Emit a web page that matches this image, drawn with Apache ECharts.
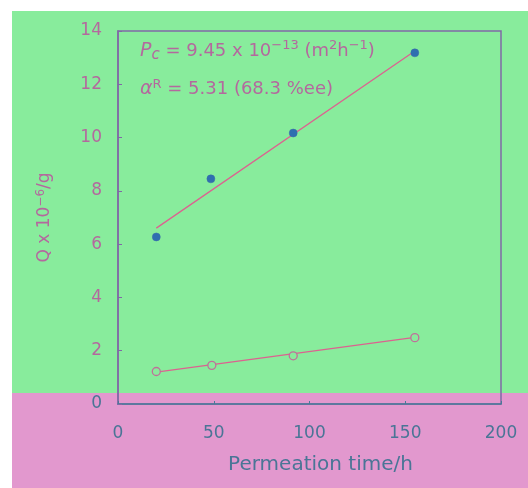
<!DOCTYPE html>
<html>
<head>
<meta charset="utf-8">
<script src="https://cdn.jsdelivr.net/npm/echarts@6/dist/echarts.min.js"></script>
<style>html,body{margin:0;padding:0;background:#fff}#c{width:528px;height:488px}</style>
</head>
<body>
<div id="c"></div>
<script>
// Data
const filledPoints = [[20, 6.27], [48.5, 8.45], [91.5, 10.17], [155, 13.18]];
const hollowPoints = [[20, 1.22], [49, 1.45], [91.5, 1.81], [155, 2.49]];
const filledFit = [[20, 6.6], [155, 13.25]];
const hollowFit = [[20, 1.2], [155, 2.5]];
const xTicks = [0, 50, 100, 150, 200];
const yTicks = [0, 2, 4, 6, 8, 10, 12, 14];

const pinkText = '#b4689e';
const blueText = '#4a7596';
const axisCol = '#8068a6';
const lineCol = '#dc6290';
const font = '"DejaVu Sans", "Liberation Sans", Arial, sans-serif';

const chart = echarts.init(document.getElementById('c'), null, {renderer: 'canvas'});
chart.setOption({
  backgroundColor: '#ffffff',
  animation: false,
  graphic: [
    {type: 'rect', z: -100, shape: {x: 12, y: 11, width: 516, height: 382}, style: {fill: '#88ec9c'}},
    {type: 'rect', z: -100, shape: {x: 12, y: 393, width: 516, height: 95}, style: {fill: '#e298ce'}},
    {type: 'text', left: 140, top: 39, z: 10, style: {
      text: '{i|P}{sub|c} = 9.45 x 10{sup|−13} (m{sup|2}h{sup|−1})',
      fill: pinkText, font: '18px ' + font,
      rich: {
        i: {fontStyle: 'italic', fontSize: 19, fill: pinkText, fontFamily: font},
        sub: {fontStyle: 'italic', fontSize: 15, fill: pinkText, verticalAlign: 'bottom', padding: [9, 0, 0, 0], fontFamily: font},
        sup: {fontSize: 13, fill: pinkText, verticalAlign: 'top', padding: [0, 0, 9, 0], fontFamily: font}
      }
    }},
    {type: 'text', left: 140, top: 78, z: 10, style: {
      text: '{a|α}{sup|R} = 5.31 (68.3 %ee)',
      fill: pinkText, font: '18px ' + font,
      rich: {
        a: {fontStyle: 'italic', fontSize: 19, fill: pinkText, fontFamily: font},
        sup: {fontSize: 13, fill: pinkText, verticalAlign: 'top', padding: [0, 0, 9, 0], fontFamily: font}
      }
    }}
  ],
  grid: {left: 118, top: 31, right: 27, bottom: 84, show: true, borderColor: axisCol, borderWidth: 1.5, backgroundColor: 'transparent'},
  xAxis: {
    type: 'value', min: 0, max: 200, interval: 50,
    name: 'Permeation time/h', nameLocation: 'middle', nameGap: 51,
    nameTextStyle: {color: blueText, fontSize: 20, fontFamily: font, padding: [0, 0, 0, 22]},
    axisLine: {show: true, lineStyle: {color: '#4a7a98', width: 1.5}},
    axisTick: {show: true, inside: true, length: 3, lineStyle: {color: '#4a7a98'}},
    axisLabel: {color: blueText, fontSize: 17, fontFamily: font, margin: 21,
      formatter: v => xTicks.includes(v) ? String(v) : ''},
    splitLine: {show: false}
  },
  yAxis: {
    type: 'value', min: 0, max: 14, interval: 2,
    name: 'Q x 10{s|−6}/g', nameLocation: 'middle', nameGap: 63, nameRotate: 90,
    nameTextStyle: {color: pinkText, fontSize: 17, fontFamily: font,
      rich: {s: {fontSize: 12, color: pinkText, fontFamily: font, verticalAlign: 'top', padding: [0, 0, 8, 0]}}},
    axisLine: {show: true, lineStyle: {color: axisCol, width: 1.5}},
    axisTick: {show: true, inside: true, length: 4, lineStyle: {color: axisCol}},
    axisLabel: {fontSize: 17, fontFamily: font, margin: 16,
      color: v => (Number(v) === 0 ? blueText : pinkText),
      formatter: v => yTicks.includes(v) ? String(v) : ''},
    splitLine: {show: false}
  },
  series: [
    {type: 'line', data: filledFit, showSymbol: false, lineStyle: {color: lineCol, width: 1.3}, z: 2},
    {type: 'line', data: hollowFit, showSymbol: false, lineStyle: {color: lineCol, width: 1.3}, z: 2},
    {type: 'scatter', data: filledPoints, symbol: 'circle', symbolSize: 8,
      itemStyle: {color: '#2f6fb0', borderColor: '#3a6aa8', borderWidth: 0.5, opacity: 1}, z: 5},
    {type: 'scatter', data: hollowPoints, symbol: 'circle', symbolSize: 8,
      itemStyle: {color: '#88ec9c', borderColor: '#c0709a', borderWidth: 1.3, opacity: 1}, z: 5}
  ]
});
</script>
</body>
</html>
